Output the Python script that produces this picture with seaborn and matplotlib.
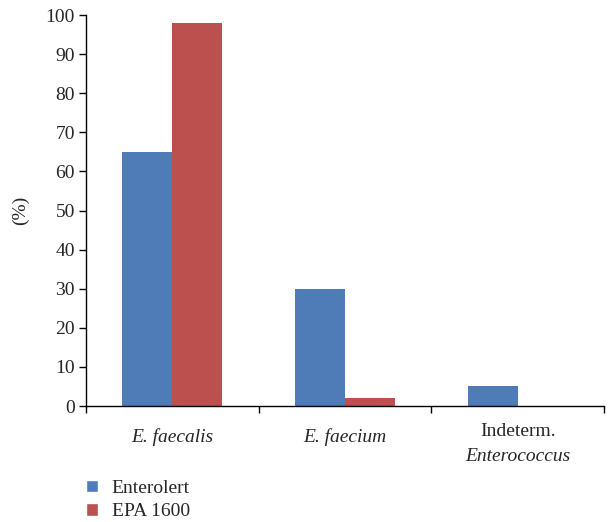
import matplotlib.pyplot as plt
import pandas as pd
import seaborn as sns
from matplotlib.patches import Patch

# data
categories = ['E. faecalis', 'E. faecium', 'Indeterm. Enterococcus']
methods = ['Enterolert', 'EPA 1600']
enterolert = [65, 30, 5]
epa1600 = [98, 2, 0]
colors = ['#4F7CB6', '#BB504E']

data = pd.DataFrame({
    'category': categories * 2,
    'method': [methods[0]] * 3 + [methods[1]] * 3,
    'value': enterolert + epa1600,
})

sns.set_style('white')
plt.rcParams['font.family'] = ['Liberation Serif', 'DejaVu Serif']
fs = 14

fig = plt.figure(figsize=(6.08, 5.22), dpi=100)
ax = fig.add_axes([0.1414, 0.2222, 0.852, 0.749])

sns.barplot(data=data, x='category', y='value', hue='method',
            palette=colors, width=0.578, saturation=1, ax=ax,
            edgecolor='none', legend=False)

ax.set_ylim(0, 100)
ax.set_xlim(-0.5, 2.5)
ax.set_yticks(range(0, 101, 10))
ax.tick_params(axis='y', labelsize=fs, direction='out', length=5,
               width=1, left=True, color='black', pad=3)

# category boundaries get tick marks, labels sit in the middle
ax.set_xticks([-0.5, 0.5, 1.5, 2.5])
ax.set_xticklabels([])
ax.tick_params(axis='x', direction='out', length=5, width=1,
               bottom=True, color='black')
ax.set_xlabel('')
ax.set_ylabel('(%)', fontsize=fs, labelpad=12)

trans = ax.get_xaxis_transform()
ax.text(0, -0.079, 'E. faecalis', style='italic', fontsize=fs,
        ha='center', va='center', transform=trans)
ax.text(1, -0.079, 'E. faecium', style='italic', fontsize=fs,
        ha='center', va='center', transform=trans)
ax.text(2, -0.066, 'Indeterm.', fontsize=fs,
        ha='center', va='center', transform=trans)
ax.text(2, -0.130, 'Enterococcus', style='italic', fontsize=fs,
        ha='center', va='center', transform=trans)

for side in ['top', 'right']:
    ax.spines[side].set_visible(False)
for side in ['left', 'bottom']:
    ax.spines[side].set_color('black')
    ax.spines[side].set_linewidth(1)

handles = [Patch(facecolor=c, label=m) for c, m in zip(colors, methods)]
fig.legend(handles=handles, loc='upper left', bbox_to_anchor=(0.1414, 0.081),
           frameon=False, fontsize=fs, handlelength=0.62, handleheight=0.62,
           handletextpad=0.7, labelspacing=0.32, borderaxespad=0, borderpad=0)

fig.savefig('out.png', dpi=100)
